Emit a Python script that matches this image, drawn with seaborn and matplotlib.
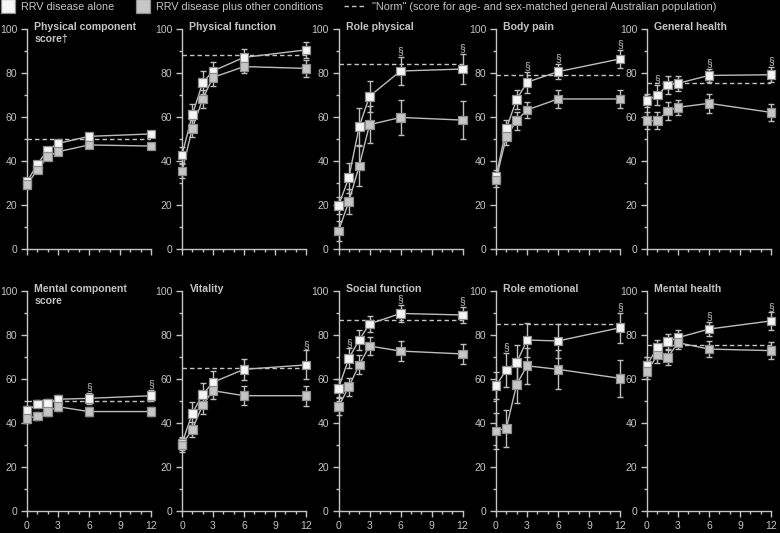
import matplotlib
matplotlib.use("Agg")

import pandas as pd
import seaborn as sns
from matplotlib import pyplot as plt
from matplotlib.lines import Line2D
from matplotlib.ticker import MultipleLocator

MONTHS = [0, 1, 2, 3, 6, 12]

TITLES = [
    "Physical component\nscore†", "Physical function", "Role physical", "Body pain", "General health",
    "Mental component\nscore", "Vitality", "Social function", "Role emotional", "Mental health",
]

# mean scores, RRV disease alone
ALONE = [
    [30.6, 38.5, 45.0, 48.0, 51.2, 52.3],
    [42.7, 61.0, 75.6, 80.9, 87.1, 90.5],
    [19.7, 32.4, 55.6, 69.4, 80.9, 81.8],
    [32.9, 54.8, 68.0, 75.8, 80.6, 86.4],
    [67.4, 70.0, 74.5, 75.3, 78.9, 79.2],
    [45.6, 48.6, 49.0, 50.8, 51.2, 52.4],
    [30.8, 44.4, 53.0, 58.5, 64.4, 66.4],
    [55.8, 69.4, 77.7, 85.0, 89.8, 89.1],
    [57.0, 64.1, 67.4, 77.7, 77.3, 83.3],
    [66.4, 74.2, 77.0, 78.8, 82.7, 86.4],
]
# mean scores, RRV disease plus other conditions
PLUS = [
    [29.4, 35.9, 42.0, 44.2, 47.3, 46.8],
    [35.5, 54.8, 68.2, 78.0, 82.9, 82.1],
    [8.2, 21.5, 37.7, 56.5, 59.8, 58.6],
    [31.4, 51.0, 58.3, 63.2, 68.2, 68.2],
    [58.3, 58.3, 62.7, 64.4, 66.2, 62.1],
    [42.1, 43.2, 45.2, 47.4, 45.2, 45.2],
    [30.0, 37.1, 48.2, 54.7, 52.4, 52.4],
    [47.4, 56.5, 66.4, 75.0, 72.7, 71.4],
    [36.4, 37.6, 57.6, 66.0, 64.4, 60.3],
    [63.3, 70.9, 69.8, 76.5, 73.6, 72.9],
]
ALONE_ERR = [
    [1.5, 1.5, 1.5, 1.5, 1.5, 1.5],
    [3.5, 5.0, 5.3, 4.2, 3.6, 3.8],
    [4.0, 6.8, 8.3, 7.1, 6.4, 6.7],
    [3.0, 3.8, 4.5, 4.8, 3.4, 4.2],
    [3.0, 4.5, 4.2, 3.4, 3.0, 3.4],
    [2.0, 2.0, 2.0, 2.0, 2.5, 2.5],
    [3.0, 5.3, 5.0, 5.3, 4.7, 6.6],
    [4.0, 4.5, 4.5, 3.6, 3.8, 3.8],
    [6.0, 7.6, 8.0, 7.6, 7.6, 6.8],
    [3.5, 3.4, 3.5, 3.4, 3.3, 3.9],
]
PLUS_ERR = [
    [1.5, 1.5, 1.5, 1.5, 1.5, 1.5],
    [3.0, 4.0, 4.2, 3.8, 3.0, 4.0],
    [4.7, 5.6, 9.2, 8.3, 7.8, 8.5],
    [3.0, 3.8, 4.0, 3.6, 4.0, 4.3],
    [3.8, 3.8, 4.2, 3.4, 4.2, 4.0],
    [2.0, 2.0, 2.0, 2.0, 2.0, 2.0],
    [3.0, 3.4, 4.0, 4.0, 4.2, 4.5],
    [3.8, 4.0, 4.3, 4.3, 4.7, 4.7],
    [8.3, 8.3, 8.6, 8.3, 9.0, 8.5],
    [3.4, 3.4, 3.6, 3.0, 3.8, 3.8],
]
NORMS = [50, 88, 84, 79, 75.5, 50, 65, 87, 85, 75.5]
# months with a significant difference (§)
SIG = [[], [], [6, 12], [3, 6, 12], [1, 6, 12], [6, 12], [12], [1, 6, 12], [1, 12], [6, 12]]

GROUPS = ["RRV disease alone", "RRV disease plus other conditions"]
NORM_LABEL = '"Norm" (score for age- and sex-matched general Australian population)'

BG = "black"
FG = "#c4c4c4"
LINE = "#bdbdbd"
FACES = {GROUPS[0]: "#f6f6f6", GROUPS[1]: "#c6c6c6"}
EDGE = "#8e8e8e"

sns.set_theme(style="ticks", rc={
    "figure.facecolor": BG, "axes.facecolor": BG, "savefig.facecolor": BG,
    "axes.edgecolor": FG, "xtick.color": FG, "ytick.color": FG,
    "text.color": FG, "axes.labelcolor": FG,
})
plt.rcParams["font.family"] = ["Liberation Sans", "DejaVu Sans"]

fig = plt.figure(figsize=(7.8, 5.33), dpi=100)
W, H = 780, 533
col_x = [27, 182, 338.5, 496, 647]
row_top = [29, 291]

for i, title in enumerate(TITLES):
    r, c = divmod(i, 5)
    ax = fig.add_axes([col_x[c] / W, (H - row_top[r] - 220) / H, 124 / W, 220 / H])

    df = pd.DataFrame({
        "month": MONTHS * 2,
        "score": ALONE[i] + PLUS[i],
        "err": ALONE_ERR[i] + PLUS_ERR[i],
        "group": [GROUPS[0]] * 6 + [GROUPS[1]] * 6,
    })

    ax.axhline(NORMS[i], color=FG, lw=1, ls=(0, (3.2, 2.2)), zorder=1)
    ax.errorbar(df["month"], df["score"], yerr=df["err"], fmt="none", ecolor=LINE,
                elinewidth=1, capsize=2.4, capthick=1, clip_on=False, zorder=2)
    sns.lineplot(data=df, x="month", y="score", units="group", estimator=None,
                 color=LINE, lw=1, ax=ax, legend=False, zorder=2)
    sns.scatterplot(data=df, x="month", y="score", hue="group", palette=FACES,
                    hue_order=GROUPS[::-1], marker="s", s=40, edgecolor=EDGE,
                    linewidth=0.9, ax=ax, legend=False, clip_on=False, zorder=3)

    top = dict(zip(MONTHS, [a + e for a, e in zip(ALONE[i], ALONE_ERR[i])]))
    for m in SIG[i]:
        ax.text(m, top[m] + 0.3, "§", ha="center", va="bottom", fontsize=7.5, color=FG)

    ax.text(0.06, 1.03, title, transform=ax.transAxes, ha="left", va="top",
            fontsize=7.6, fontweight="bold", color=FG, linespacing=1.15)

    ax.set_xlim(0, 12)
    ax.set_ylim(0, 100)
    ax.xaxis.set_major_locator(MultipleLocator(3))
    ax.xaxis.set_minor_locator(MultipleLocator(1))
    ax.yaxis.set_major_locator(MultipleLocator(20))
    ax.yaxis.set_minor_locator(MultipleLocator(10))
    ax.tick_params(which="major", length=4, width=1, labelsize=7.5, pad=3, colors=FG)
    ax.tick_params(which="minor", length=2.5, width=1, colors=FG)
    if r == 0:
        ax.tick_params(axis="x", labelbottom=False)
    ax.set_xlabel("")
    ax.set_ylabel("")
    for side in ("top", "right"):
        ax.spines[side].set_visible(False)
    for side in ("left", "bottom"):
        ax.spines[side].set_color(FG)
        ax.spines[side].set_linewidth(1)

handles = [
    Line2D([], [], ls="none", marker="s", markersize=10, mfc=FACES[GROUPS[0]], mec=EDGE, mew=0.9),
    Line2D([], [], ls="none", marker="s", markersize=10, mfc=FACES[GROUPS[1]], mec=EDGE, mew=0.9),
    Line2D([], [], color=FG, lw=1, ls=(0, (3.2, 2.2))),
]
labels = GROUPS + [NORM_LABEL]
anchors = [-1, 134, 342]
lengths = [1.3, 1.3, 2.0]
for h, lab, x0, hl in zip(handles, labels, anchors, lengths):
    fig.legend(handles=[h], labels=[lab], loc="upper left", bbox_to_anchor=(x0 / W, 1.0),
               frameon=False, fontsize=7.8, handlelength=hl, handletextpad=0.6,
               borderaxespad=0, borderpad=0.15, labelcolor=FG)

fig.savefig("out.png", dpi=100, facecolor=BG)
